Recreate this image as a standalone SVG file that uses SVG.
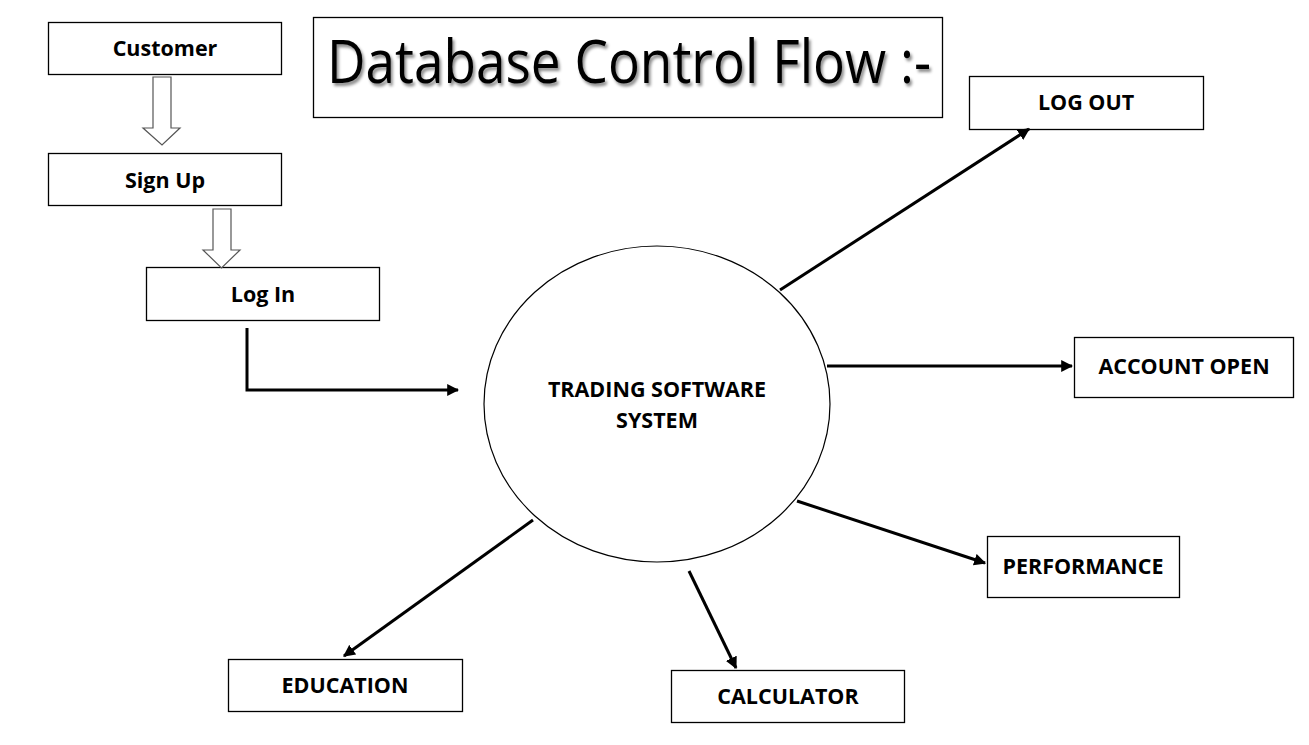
<svg xmlns="http://www.w3.org/2000/svg" width="1309" height="745" viewBox="0 0 1309 745">
<defs>
<marker id="ah" viewBox="0 0 10 10" refX="9" refY="5" markerWidth="4" markerHeight="4" markerUnits="strokeWidth" orient="auto">
<path d="M0,0 L10,5 L0,10 Z" fill="#000"/>
</marker>
<filter id="sh" x="-5%" y="-20%" width="110%" height="140%">
<feDropShadow dx="2" dy="3" stdDeviation="1.5" flood-color="#000" flood-opacity="0.45"/>
</filter>
</defs>
<style>
.box{fill:#fff;stroke:#000;stroke-width:1.3}
.lbl{font-family:"Open Sans","Liberation Sans",sans-serif;font-weight:700;font-size:21.5px;text-anchor:middle;fill:#000}
.conn{stroke:#000;stroke-width:3;fill:none;marker-end:url(#ah)}
.blk{fill:#fff;stroke:#555;stroke-width:1.2}
</style>
<rect width="1309" height="745" fill="#fff"/>

<g id="title">
<rect class="box" x="313.5" y="17.5" width="629" height="100"/>
<text x="629" y="83" font-family="'Open Sans','Liberation Sans',sans-serif" font-size="60" text-anchor="middle" textLength="604" lengthAdjust="spacingAndGlyphs" filter="url(#sh)">Database Control Flow :-</text>
</g>

<g id="customer">
<rect class="box" x="48.5" y="22.5" width="233" height="52"/>
<text class="lbl" x="165" y="56">Customer</text>
</g>
<g id="signup">
<rect class="box" x="48.5" y="153.5" width="233" height="52"/>
<text class="lbl" x="165" y="188">Sign Up</text>
</g>
<g id="login">
<rect class="box" x="146.5" y="267.5" width="233" height="53"/>
<text class="lbl" x="263" y="302">Log In</text>
</g>

<g id="system">
<ellipse cx="657" cy="404" rx="173" ry="158" fill="#fff" stroke="#000" stroke-width="1.2"/>
<text class="lbl" x="657" y="397">TRADING SOFTWARE</text>
<text class="lbl" x="657" y="428">SYSTEM</text>
</g>

<g id="logout">
<rect class="box" x="969.5" y="76.5" width="234" height="53"/>
<text class="lbl" x="1086" y="110">LOG OUT</text>
</g>
<g id="accountopen">
<rect class="box" x="1074.5" y="337.5" width="219" height="60"/>
<text class="lbl" x="1184" y="374">ACCOUNT OPEN</text>
</g>
<g id="performance">
<rect class="box" x="987.5" y="536.5" width="192" height="61"/>
<text class="lbl" x="1083" y="574">PERFORMANCE</text>
</g>
<g id="education">
<rect class="box" x="228.5" y="659.5" width="234" height="52"/>
<text class="lbl" x="345" y="693">EDUCATION</text>
</g>
<g id="calculator">
<rect class="box" x="671.5" y="670.5" width="233" height="52"/>
<text class="lbl" x="788" y="704">CALCULATOR</text>
</g>

<g id="connectors">
<path class="blk" d="M153,77 H171 V128 H180 L162,145 L143,128 H153 Z"/>
<path class="blk" d="M213,209 H231 V250 H240 L221.5,268 L203,250 H213 Z"/>
<path class="conn" d="M247,328 V390 H458"/>
<path class="conn" d="M780,290 L1029,129"/>
<path class="conn" d="M827,366 L1072,366"/>
<path class="conn" d="M797,501 L985,563"/>
<path class="conn" d="M689,571 L736,668"/>
<path class="conn" d="M533,520 L344,656"/>
</g>
</svg>
